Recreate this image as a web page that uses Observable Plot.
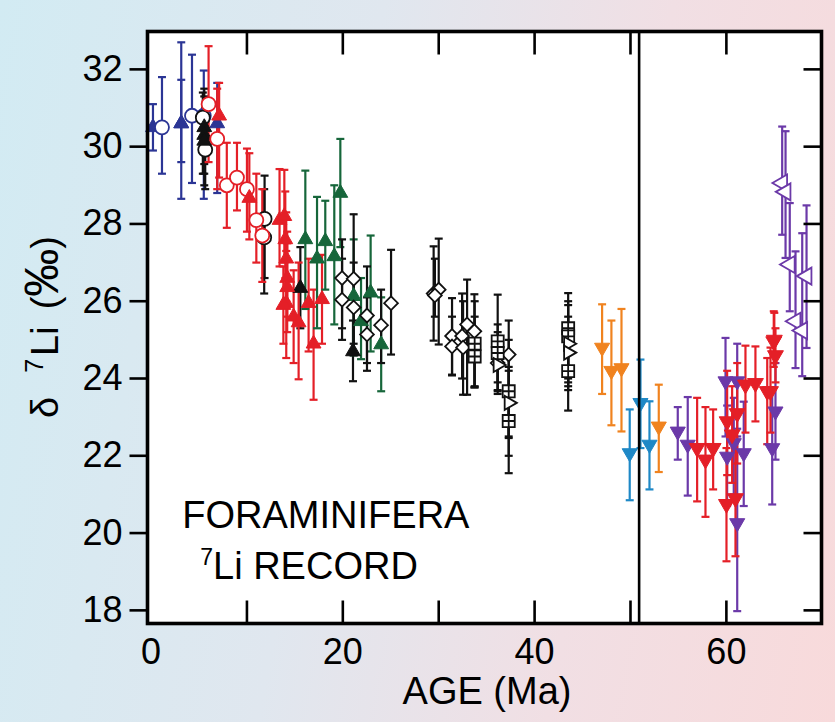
<!DOCTYPE html>
<html>
<head>
<meta charset="utf-8">
<script src="https://cdn.jsdelivr.net/npm/d3@7"></script>
<script src="https://cdn.jsdelivr.net/npm/@observablehq/plot@0.6"></script>
<style>
  html, body { margin: 0; padding: 0; }
  body {
    width: 835px; height: 722px; overflow: hidden;
    background: linear-gradient(100deg, #d2ebf3 0%, #e0e7ef 40%, #f1dfe4 70%, #f8dadb 100%);
    font-family: "Liberation Sans", Arial, sans-serif;
  }
  #chart svg { display: block; }
</style>
</head>
<body>
<div id="chart"></div>
<script>
// ---- data: [age (Ma), δ7Li (‰), error-bar low, error-bar high] ----
const navyTriUp = [
  [0.2, 30.5, 29.9, 31.1], [3.15, 30.6, 28.65, 32.7], [3.15, 30.6, 29.6, 31.73], [6.9, 30.6, 28.8, 31.65]
];
const navyCircle = [
  [1.14, 30.5, 29.3, 31.8], [4.27, 30.8, 29.06, 32.38], [5.5, 30.8, 28.65, 31.97]
];
const blackTriUp = [
  [5.55, 30.5, 29.0, 31.5], [5.55, 30.3, 29.3, 31.3], [5.55, 30.15, 29.55, 30.85],
  [15.57, 26.34, 25.3, 27.4], [21.06, 24.7, 23.93, 25.5]
];
const blackCircle = [
  [5.4, 30.75, 29.3, 31.4], [5.65, 29.92, 28.9, 31.0], [11.84, 28.13, 26.6, 29.25], [11.8, 27.65, 26.2, 28.9]
];
const redCircle = [
  [6.0, 31.1, 29.6, 32.6], [6.9, 30.2, 28.9, 31.5], [7.9, 29.0, 27.9, 30.1], [8.96, 29.2, 28.35, 30.1],
  [10.0, 28.9, 27.8, 29.95], [10.98, 28.1, 27.0, 29.3], [11.6, 27.7, 26.5, 28.9]
];
const redTriUp = [
  [7.1, 30.8, 29.2, 31.65], [10.25, 28.67, 27.6, 29.83], [13.4, 28.1, 26.9, 29.42], [13.9, 28.2, 27.0, 29.4],
  [14.0, 27.6, 26.6, 28.84], [14.1, 27.1, 26.0, 28.3], [14.2, 26.6, 25.6, 27.8], [14.2, 26.36, 25.2, 27.5],
  [14.1, 25.95, 24.53, 27.3], [13.8, 25.9, 24.9, 26.9], [14.87, 25.6, 24.4, 26.8], [15.39, 25.45, 23.98, 27.0],
  [16.43, 25.95, 24.7, 27.1], [17.83, 26.05, 24.9, 27.2], [16.95, 24.9, 23.45, 26.3]
];
const greenTriUp = [
  [16.09, 27.6, 25.8, 29.38], [17.31, 27.1, 25.3, 28.7], [18.17, 27.55, 26.3, 28.6], [19.11, 27.16, 25.4, 29.0],
  [19.74, 28.8, 27.4, 30.2], [21.13, 26.13, 24.6, 27.6], [21.9, 25.48, 24.5, 26.6], [22.9, 26.22, 24.7, 27.7],
  [24.0, 24.88, 23.67, 26.1]
];
const blackDiamond = [
  [19.92, 26.6, 25.3, 27.6], [19.92, 26.04, 25.0, 27.1], [21.13, 26.58, 24.9, 28.25], [21.13, 25.84, 24.6, 27.0],
  [22.52, 25.63, 24.4, 26.9], [22.52, 25.14, 24.2, 26.1], [23.99, 25.38, 24.4, 26.3], [25.03, 25.95, 24.62, 27.33],
  [29.47, 26.2, 24.98, 27.42], [30.0, 26.3, 24.88, 27.62], [29.6, 26.15, 25.6, 27.1], [31.39, 25.1, 24.08, 26.08],
  [31.39, 24.83, 24.1, 25.6], [32.44, 25.1, 24.0, 26.2], [32.54, 24.8, 23.58, 26.0], [32.96, 25.4, 23.58, 26.56],
  [33.72, 25.22, 23.77, 26.18], [36.15, 24.4, 23.7, 25.2], [37.3, 24.62, 22.46, 25.5]
];
const blackSquare = [
  [33.75, 24.9, 23.8, 26.0], [33.75, 24.57, 23.77, 25.6], [36.15, 24.96, 23.67, 26.17], [36.15, 24.66, 23.9, 25.4],
  [37.3, 23.67, 22.0, 25.0], [37.3, 22.9, 21.55, 24.2], [43.5, 25.3, 24.0, 26.21], [43.5, 25.09, 23.8, 26.0],
  [43.5, 24.19, 23.17, 25.2]
];
const blackTriOpen = [
  [37.3, 23.37, 22.5, 24.3], [43.5, 24.9, 23.9, 25.9], [43.5, 24.67, 23.7, 25.6], [36.15, 24.35, 23.6, 25.1]
];
const orangeTriDown = [
  [47.04, 24.8, 23.6, 25.92], [48.01, 24.2, 22.79, 25.5], [49.06, 24.27, 22.63, 25.8], [52.95, 22.76, 21.58, 23.84]
];
const skyTriDown = [
  [49.92, 22.07, 20.85, 23.2], [51.04, 23.37, 22.2, 24.49], [51.98, 22.29, 21.13, 23.41]
];
const purpleTriDown = [
  [54.93, 22.63, 21.9, 23.26], [55.97, 22.29, 20.97, 23.52], [59.91, 23.93, 22.5, 25.05], [61.13, 23.93, 22.7, 24.9],
  [60.08, 21.98, 20.7, 23.3], [60.77, 22.33, 21.0, 23.5], [61.81, 22.07, 20.7, 23.4], [61.13, 20.26, 17.98, 22.5],
  [64.78, 22.2, 20.74, 23.7], [65.12, 23.15, 21.9, 24.4]
];
const redTriDown = [
  [56.95, 22.2, 20.82, 23.5], [57.82, 21.9, 20.42, 23.26], [58.62, 22.2, 21.13, 23.2], [60.08, 22.89, 21.5, 24.2],
  [60.01, 20.75, 19.27, 22.2], [60.95, 20.9, 19.4, 22.4], [61.13, 23.1, 21.8, 24.4], [60.6, 22.55, 21.3, 23.8],
  [61.99, 23.84, 22.6, 24.85], [63.03, 23.88, 22.89, 24.83], [64.26, 23.67, 22.3, 24.53], [64.6, 23.67, 22.6, 24.8],
  [64.94, 24.96, 24.3, 25.74], [65.12, 24.6, 23.9, 25.3], [65.0, 25.0, 24.4, 25.7]
];
const purpleTriLeftOpen = [
  [65.82, 29.06, 27.72, 30.52], [66.17, 28.83, 27.12, 30.4], [66.61, 26.95, 25.74, 28.54],
  [68.36, 26.65, 24.79, 28.48], [67.21, 25.48, 24.27, 27.29], [67.91, 25.24, 24.06, 27.76]
];

const yTicks = [18, 20, 22, 24, 26, 28, 30, 32];
const xTicks = [10, 20, 30, 40, 50, 60];
const xTickLabels = [0, 20, 40, 60];
const boundaryAge = [50.9];
const noteLines = ["FORAMINIFERA", "7Li RECORD"];
const xLabel = "AGE (Ma)";
const yLabelParts = ["δ", "7", "Li", "(", "‰", ")"];

// ---- symbols ----
const capSym = {draw(c, s) { const w = Math.sqrt(s) / 2; c.moveTo(-w, 0); c.lineTo(w, 0); }};
const squareCross = {draw(c, s) {
  const w = Math.sqrt(s) / 2;
  c.moveTo(-w, -w); c.lineTo(w, -w); c.lineTo(w, w); c.lineTo(-w, w); c.closePath();
  c.moveTo(-w, 0); c.lineTo(w, 0); c.moveTo(0, -w); c.lineTo(0, w);
}};
const tickLeftward = {draw(c) { c.moveTo(0, 0); c.lineTo(-18, 0); }};
const tickDownward = {draw(c) { c.moveTo(0, 0); c.lineTo(0, 23); }};
const tickUpward = {draw(c) { c.moveTo(0, 0); c.lineTo(0, -23); }};

const C = {navy: "#2b3595", black: "#111111", red: "#e41f27", green: "#16663a", orange: "#f0831f", sky: "#1e88c6", purple: "#6b39a8"};

const series = [
  {data: navyTriUp, color: C.navy, symbol: "triangle", rotate: 0, open: false, r: 5.5},
  {data: navyCircle, color: C.navy, symbol: "circle", rotate: 0, open: true, r: 7},
  {data: blackCircle, color: C.black, symbol: "circle", rotate: 0, open: true, r: 7},
  {data: blackTriUp, color: C.black, symbol: "triangle", rotate: 0, open: false, r: 5.5},
  {data: redCircle, color: C.red, symbol: "circle", rotate: 0, open: true, r: 7},
  {data: redTriUp, color: C.red, symbol: "triangle", rotate: 0, open: false, r: 5.5},
  {data: greenTriUp, color: C.green, symbol: "triangle", rotate: 0, open: false, r: 5.5},
  {data: blackDiamond, color: C.black, symbol: "diamond2", rotate: 0, open: true, r: 6.2},
  {data: blackSquare, color: C.black, symbol: squareCross, rotate: 0, open: true, r: 6.8},
  {data: blackTriOpen, color: C.black, symbol: "triangle", rotate: 90, open: true, r: 5.2},
  {data: orangeTriDown, color: C.orange, symbol: "triangle", rotate: 180, open: false, r: 5.6},
  {data: skyTriDown, color: C.sky, symbol: "triangle", rotate: 180, open: false, r: 5.6},
  {data: purpleTriDown, color: C.purple, symbol: "triangle", rotate: 180, open: false, r: 5.6},
  {data: redTriDown, color: C.red, symbol: "triangle", rotate: 180, open: false, r: 5.9},
  {data: purpleTriLeftOpen, color: C.purple, symbol: "triangle", rotate: -90, open: true, r: 6.3}
];
const rows = s => s.data.map(([age, li, lo, hi]) => ({age, li, lo, hi}));

const marks = [Plot.frame({fill: "white", stroke: null})];
for (const s of series) {
  const d = rows(s);
  marks.push(Plot.ruleX(d, {x: "age", y1: "lo", y2: "hi", stroke: s.color, strokeWidth: 2.2}));
  marks.push(Plot.dot(d, {x: "age", y: "lo", symbol: capSym, r: 4.5, stroke: s.color, strokeWidth: 2.2, fill: "none"}));
  marks.push(Plot.dot(d, {x: "age", y: "hi", symbol: capSym, r: 4.5, stroke: s.color, strokeWidth: 2.2, fill: "none"}));
}
for (const s of series) {
  const d = rows(s);
  marks.push(Plot.dot(d, s.open
    ? {x: "age", y: "li", symbol: s.symbol, r: s.r, rotate: s.rotate, fill: "white", stroke: s.color, strokeWidth: 1.8}
    : {x: "age", y: "li", symbol: s.symbol, r: s.r, rotate: s.rotate, fill: s.color, stroke: s.color, strokeWidth: 1}));
}
marks.push(
  Plot.ruleX(boundaryAge, {stroke: "black", strokeWidth: 2.6}),
  Plot.dot(yTicks, {y: d => d, frameAnchor: "left", symbol: tickLeftward, stroke: "black", strokeWidth: 2.6, fill: "none"}),
  Plot.dot(yTicks, {y: d => d, frameAnchor: "right", symbol: tickLeftward, stroke: "black", strokeWidth: 2.6, fill: "none"}),
  Plot.dot(xTicks, {x: d => d, frameAnchor: "top", symbol: tickDownward, stroke: "black", strokeWidth: 2.6, fill: "none"}),
  Plot.dot(xTicks, {x: d => d, frameAnchor: "bottom", symbol: tickUpward, stroke: "black", strokeWidth: 2.6, fill: "none"}),
  Plot.axisY({ticks: yTicks, tickSize: 0, tickPadding: 25, fontSize: 36, label: null}),
  Plot.axisX({ticks: xTickLabels, tickSize: 0, tickPadding: 15, fontSize: 36, label: null}),
  Plot.text([noteLines[0]], {x: 3.26, y: 20.14, text: d => d, textAnchor: "start", lineAnchor: "bottom", fontSize: 38, fill: "black"}),
  Plot.text([noteLines[1]], {x: 5.13, y: 18.82, text: d => d, textAnchor: "start", lineAnchor: "bottom", fontSize: 38, fill: "black"}),
  Plot.frame({stroke: "black", strokeWidth: 3.6})
);

const chart = Plot.plot({
  width: 835, height: 722,
  marginLeft: 147, marginRight: 14, marginTop: 31, marginBottom: 99,
  x: {domain: [-0.37, 69.92]},
  y: {domain: [17.66, 32.98]},
  style: {background: "transparent", color: "black", fontFamily: "'Liberation Sans', Arial, sans-serif", overflow: "visible"},
  marks
});
document.getElementById("chart").appendChild(chart);

// superscript in the note "7Li RECORD"
const svg = d3.select(chart);
svg.selectAll("text").filter(function() { return this.textContent === noteLines[1]; }).each(function() {
  const t = d3.select(this);
  t.text(null);
  t.append("tspan").attr("font-size", 23).attr("dy", -14).text("7");
  t.append("tspan").attr("font-size", 38).attr("dy", 14).text("Li RECORD");
});

// axis titles
svg.append("text")
  .attr("transform", "translate(487,704)")
  .attr("text-anchor", "middle").attr("font-size", 38).attr("fill", "black")
  .text(xLabel);
const yl = svg.append("text")
  .attr("transform", "translate(58,418) rotate(-90)")
  .attr("text-anchor", "start").attr("font-size", 38).attr("fill", "black");
yl.append("tspan").text(yLabelParts[0]);
yl.append("tspan").attr("font-size", 25).attr("dx", 24).attr("dy", -15).text(yLabelParts[1]);
yl.append("tspan").attr("dx", 3).attr("dy", 15).text(yLabelParts[2]);
yl.append("tspan").attr("dx", 17).text(yLabelParts[3]);
yl.append("tspan").attr("font-size", 48).text(yLabelParts[4]);
yl.append("tspan").text(yLabelParts[5]);
</script>
</body>
</html>
